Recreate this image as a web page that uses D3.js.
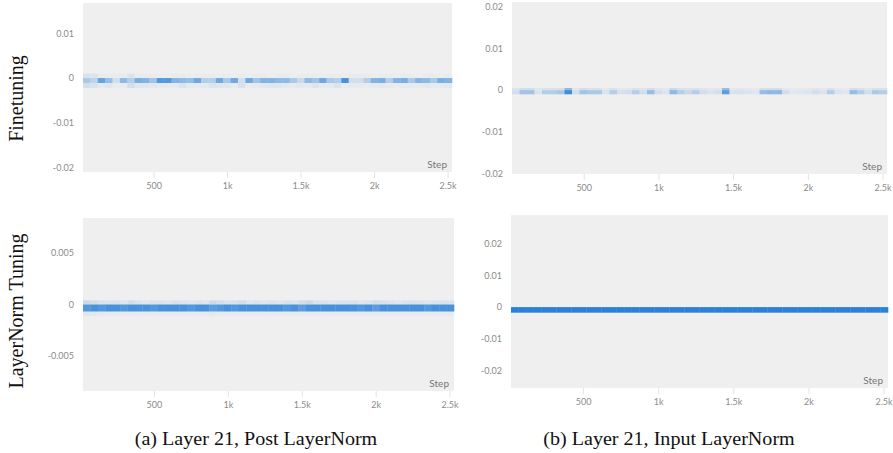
<!DOCTYPE html>
<html>
<head>
<meta charset="utf-8">
<script src="https://cdn.jsdelivr.net/npm/d3@7"></script>
<style>
  body { margin: 0; background: #fff; }
  svg { display: block; }
  .tick-lbl { font-family: Lato, "Noto Sans", sans-serif; font-size: 9px; fill: #8a8a8a; }
  .step-lbl { font-family: Lato, "Noto Sans", sans-serif; font-size: 10px; fill: #777; }
  .serif { font-family: "Liberation Serif", "Times New Roman", serif; fill: #111; }
</style>
</head>
<body>
<div id="chart"></div>
<script>
// step bins (50 bins across the run)
const stepStart = 20, stepEnd = 2530, nBins = 50;
const xTicks = [500, 1000, 1500, 2000, 2500];
const xTickLabels = ['500', '1k', '1.5k', '2k', '2.5k'];

const rowLabels = ['Finetuning', 'LayerNorm Tuning'];
const captions = ['(a) Layer 21, Post LayerNorm', '(b) Layer 21, Input LayerNorm'];

// panel (a) top: finetuning, post layernorm
const p1Ticks = [0.01, 0, -0.01, -0.02];
const p1Rows = [[0.001, 0], [0, -0.0011], [-0.0011, -0.0022]];
const p1Up  = [0.12,0.1,0.03,0.03,0.03,0.03,0.1,0.03,0.03,0.03,0.02,0.02,0.03,0.03,0.02,0.02,0.03,0.03,0.02,0.03,0.02,0.03,0.02,0.03,0.03,0.02,0.03,0.03,0.02,0.03,0.03,0.03,0.02,0.03,0.03,0.02,0.03,0.03,0.03,0.02,0.03,0.03,0.02,0.03,0.03,0.02,0.03,0.03,0.02,0.03];
const p1Mid = [0.35,0.25,0.7,0.45,0.15,0.5,0.3,0.6,0.55,0.4,0.8,0.8,0.55,0.5,0.45,0.65,0.3,0.3,0.65,0.35,0.65,0.15,0.65,0.4,0.55,0.55,0.5,0.5,0.35,0.2,0.5,0.4,0.65,0.35,0.3,0.85,0.15,0.15,0.3,0.55,0.6,0.3,0.55,0.6,0.35,0.55,0.5,0.35,0.6,0.55];
const p1Low = [0.15,0.12,0.05,0.08,0.03,0.03,0.15,0.08,0.08,0.06,0.05,0.05,0.05,0.1,0.05,0.05,0.05,0.1,0.08,0.08,0.05,0.12,0.03,0.05,0.06,0.08,0.08,0.06,0.04,0.06,0.05,0.1,0.05,0.05,0.1,0.03,0.05,0.05,0.03,0.05,0.06,0.04,0.03,0.04,0.05,0.04,0.06,0.05,0.05,0.06];

// panel (b) top: finetuning, input layernorm
const p2Ticks = [0.02, 0.01, 0, -0.01, -0.02];
const p2Rows = [[0.0005, 0], [0, -0.001]];
const p2Up  = [0.1,0.15,0.15,0.08,0.12,0.12,0.12,0.5,0.08,0.15,0.12,0.12,0.06,0.12,0.06,0.08,0.12,0.08,0.15,0.08,0.06,0.2,0.12,0.1,0.12,0.08,0.06,0.08,0.45,0.06,0.06,0.06,0.05,0.15,0.15,0.15,0.06,0.04,0.05,0.06,0.08,0.06,0.12,0.06,0.05,0.15,0.12,0.08,0.12,0.12];
const p2Mid = [0.15,0.4,0.4,0.1,0.3,0.3,0.35,0.9,0.15,0.4,0.35,0.35,0.1,0.3,0.12,0.15,0.3,0.15,0.45,0.15,0.1,0.5,0.3,0.2,0.3,0.15,0.1,0.15,0.75,0.12,0.12,0.1,0.08,0.45,0.5,0.5,0.15,0.06,0.08,0.1,0.15,0.1,0.3,0.1,0.08,0.45,0.3,0.15,0.35,0.3];

// panel (a) bottom: layernorm tuning, post layernorm
const p3Ticks = [0.005, 0, -0.005];
const p3Rows = [[0.0004, 0], [0, -0.0007], [-0.0007, -0.0011]];
const p3Up  = [0.2,0.15,0.12,0.1,0.12,0.08,0.15,0.1,0.08,0.1,0.1,0.08,0.12,0.1,0.08,0.1,0.08,0.18,0.15,0.1,0.12,0.15,0.08,0.1,0.08,0.1,0.08,0.12,0.1,0.15,0.18,0.1,0.12,0.08,0.1,0.1,0.12,0.08,0.1,0.15,0.12,0.1,0.08,0.1,0.12,0.1,0.08,0.1,0.12,0.1];
const p3Mid = [0.8,0.85,0.8,0.85,0.85,0.8,0.85,0.85,0.85,0.8,0.85,0.85,0.85,0.85,0.8,0.85,0.85,0.75,0.8,0.85,0.8,0.85,0.85,0.85,0.85,0.85,0.85,0.8,0.85,0.75,0.85,0.85,0.85,0.85,0.85,0.85,0.85,0.8,0.85,0.75,0.85,0.85,0.85,0.85,0.85,0.85,0.8,0.85,0.85,0.85];
const p3Low = [0.08,0.06,0.05,0.05,0.04,0.04,0.05,0.04,0.04,0.04,0.04,0.04,0.05,0.04,0.04,0.04,0.04,0.06,0.05,0.04,0.04,0.05,0.04,0.04,0.04,0.04,0.04,0.04,0.04,0.05,0.05,0.04,0.04,0.04,0.04,0.04,0.04,0.04,0.04,0.05,0.04,0.04,0.04,0.04,0.04,0.04,0.04,0.04,0.04,0.04];

// panel (b) bottom: layernorm tuning, input layernorm
const p4Ticks = [0.02, 0.01, 0, -0.01, -0.02];
const p4Rows = [[0, -0.00175]];
const p4Mid = [1,1,1,1,1,1,1,1,1,1,1,1,1,1,1,1,1,1,1,1,1,1,1,1,1,1,1,1,1,1,1,1,1,1,1,1,1,1,1,1,1,1,1,1,1,1,1,1,1,1];

const panels = [
  {box: {x0: 83, x1: 452, y0: 3, y1: 172}, yDomain: [-0.0209, 0.0167], ticks: p1Ticks, rows: p1Rows, vals: [p1Up, p1Mid, p1Low]},
  {box: {x0: 512, x1: 887, y0: 2, y1: 174}, yDomain: [-0.02, 0.021], ticks: p2Ticks, rows: p2Rows, vals: [p2Up, p2Mid]},
  {box: {x0: 83, x1: 454, y0: 218, y1: 391}, yDomain: [-0.0084, 0.0084], ticks: p3Ticks, rows: p3Rows, vals: [p3Up, p3Mid, p3Low]},
  {box: {x0: 511, x1: 888, y0: 215, y1: 388}, yDomain: [-0.0253, 0.0288], ticks: p4Ticks, rows: p4Rows, vals: [p4Mid]}
];

const W = 893, H = 453;
const bg = '#efefef';
const color = d3.interpolateRgb(bg, '#2a82d8');

const svg = d3.select('#chart').append('svg')
  .attr('width', W)
  .attr('height', H);

const binW = (stepEnd - stepStart) / nBins;

panels.forEach(function(p) {
  const x = d3.scaleLinear().domain([stepStart, stepEnd]).range([p.box.x0, p.box.x1]);
  const y = d3.scaleLinear().domain(p.yDomain).range([p.box.y1, p.box.y0]);
  const g = svg.append('g');

  g.append('rect')
    .attr('x', p.box.x0).attr('y', p.box.y0)
    .attr('width', p.box.x1 - p.box.x0).attr('height', p.box.y1 - p.box.y0)
    .attr('fill', bg);

  // heatmap cells
  const cells = [];
  p.rows.forEach(function(r, ri) {
    p.vals[ri].forEach(function(v, bi) {
      cells.push({s0: stepStart + bi * binW, s1: stepStart + (bi + 1) * binW, hi: r[0], lo: r[1], v: v});
    });
  });
  g.selectAll('.cell').data(cells).enter()
    .append('rect')
    .attr('class', 'cell')
    .attr('x', d => x(d.s0))
    .attr('width', d => x(d.s1) - x(d.s0) + 0.3)
    .attr('y', d => y(d.hi))
    .attr('height', d => y(d.lo) - y(d.hi))
    .attr('fill', d => color(d.v));

  // x axis
  const axisX = d3.axisBottom(x)
    .tickValues(xTicks)
    .tickFormat((d, i) => xTickLabels[i])
    .tickSize(6)
    .tickPadding(5);
  const ax = g.append('g')
    .attr('transform', `translate(0,${p.box.y1})`)
    .call(axisX);
  ax.select('.domain').remove();
  ax.selectAll('line').attr('stroke', '#e2e2e2');
  ax.selectAll('text').attr('class', 'tick-lbl').attr('fill', null);

  // y axis
  const axisY = d3.axisLeft(y)
    .tickValues(p.ticks)
    .tickFormat(d => d === 0 ? '0' : String(d))
    .tickSize(0)
    .tickPadding(9);
  const ay = g.append('g')
    .attr('transform', `translate(${p.box.x0},0)`)
    .call(axisY);
  ay.select('.domain').remove();
  ay.selectAll('text').attr('class', 'tick-lbl').attr('fill', null);

  g.append('text')
    .attr('class', 'step-lbl')
    .attr('x', p.box.x1 - 5)
    .attr('y', p.box.y1 - 4)
    .attr('text-anchor', 'end')
    .text('Step');
});

// row labels
const rowCenters = [98.5, 311];
rowLabels.forEach(function(t, i) {
  svg.append('text')
    .attr('class', 'serif')
    .attr('font-size', 20)
    .attr('text-anchor', 'middle')
    .attr('transform', `translate(22.5,${rowCenters[i]}) scale(1.1,1) rotate(-90)`)
    .text(t);
});

// captions
const capCenters = [256, 669];
captions.forEach(function(t, i) {
  svg.append('text')
    .attr('class', 'serif')
    .attr('font-size', 18.6)
    .attr('text-anchor', 'middle')
    .attr('transform', `translate(${capCenters[i]},445) scale(1.08,1)`)
    .text(t);
});
</script>
</body>
</html>
